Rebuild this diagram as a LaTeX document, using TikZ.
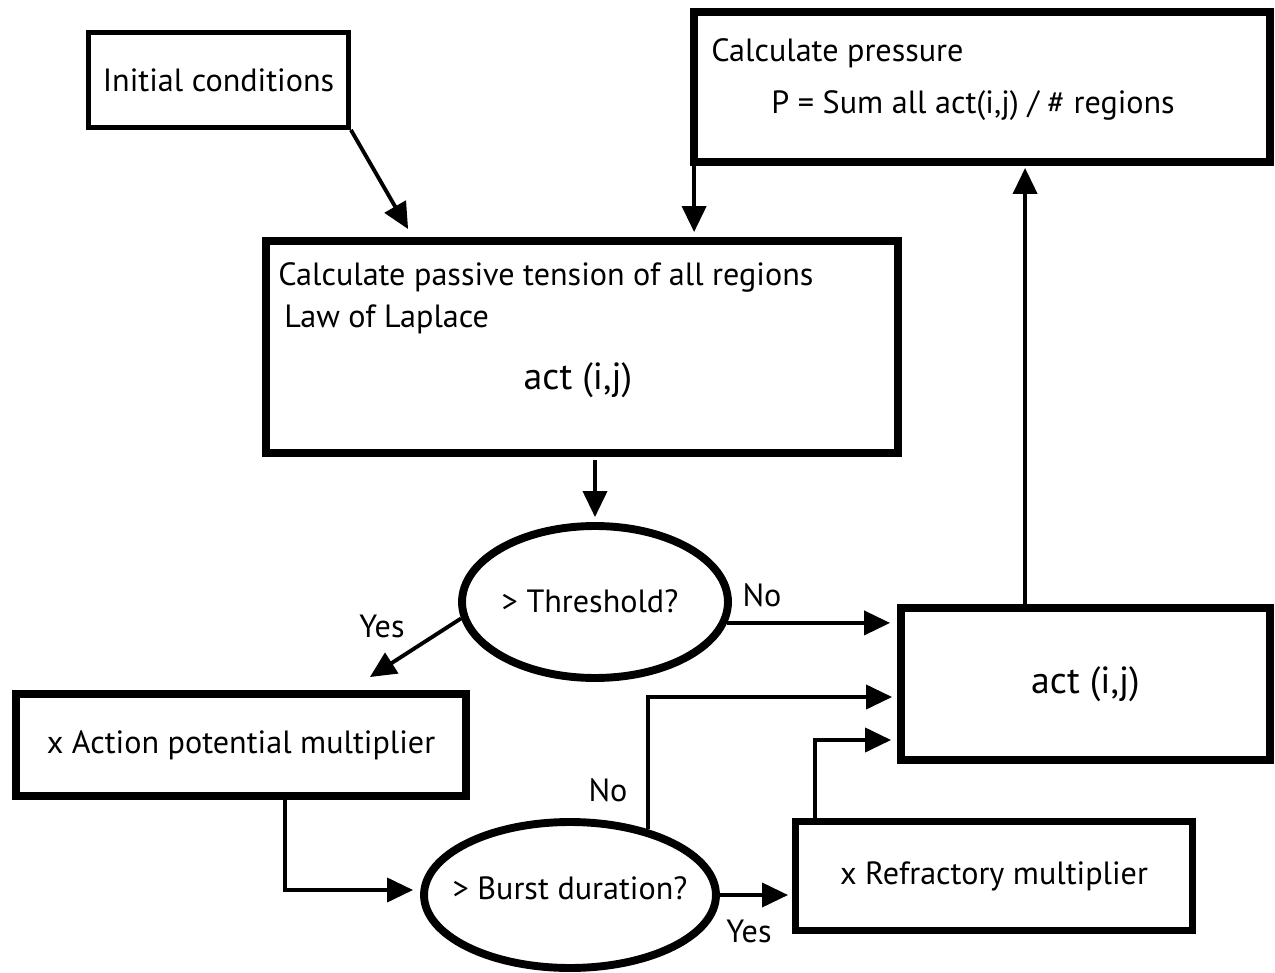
\documentclass[tikz,border=0pt]{standalone}
\usepackage{fontspec}
\setmainfont{PT Sans}
\usepackage{tikz}
\usetikzlibrary{arrows.meta,positioning,shapes.geometric,calc}
\tikzset{
  stepbox/.style={draw=black,line width=4.5pt,fill=white,align=center,inner sep=2pt},
  thinbox/.style={stepbox,line width=2.8pt},
  ask/.style={ellipse,draw=black,line width=4.5pt,fill=white,inner sep=0pt},
  txt/.style={inner sep=0pt},
  bigtxt/.style={txt,font=\fontsize{21.5}{25}\selectfont},
  arr/.style={-{Triangle[length=5.2mm,width=4.8mm]},draw=black,line width=2.2pt}
}
\begin{document}
\begin{tikzpicture}[x=0.02cm,y=-0.02cm,font=\fontsize{18.3}{22}\selectfont]
  \useasboundingbox (0,0) rectangle (1275,973);
  % boxes
  \node[thinbox,minimum width=5.2cm,minimum height=1.9cm] (init) at (218.5,80) {Initial conditions};
  \node[stepbox,minimum width=11.52cm,minimum height=3.0cm] (press) at (982,87) {};
  \node[txt,anchor=base west] (presstitle) at (711,62) {Calculate pressure};
  \node[txt,anchor=base west] (pressform) at (771,114) {P = Sum all act(i,j) / \# regions};
  \node[stepbox,minimum width=12.64cm,minimum height=4.24cm] (passive) at (582,347) {};
  \node[txt,anchor=base west] (passtitle) at (278,286) {Calculate passive tension of all regions};
  \node[txt,anchor=base west] (passlaw) at (284,328) {Law of Laplace};
  \node[bigtxt,anchor=base] (passact) at (578,389) {act (i,j)};
  \node[ask,minimum width=5.32cm,minimum height=3.04cm] (thresh) at (595,602) {};
  \node[txt] (threshtxt) at ($(thresh)+(-5,-1)$) {> Threshold?};
  \node[stepbox,minimum width=9.0cm,minimum height=2.04cm] (action) at (241,745) {x Action potential multiplier};
  \node[ask,minimum width=5.84cm,minimum height=2.92cm] (burst) at (570,895) {};
  \node[txt] (bursttxt) at ($(burst)+(0,-7)$) {> Burst duration?};
  \node[stepbox,line width=4pt,minimum width=7.94cm,minimum height=2.18cm] (refr) at (994,876) {x Refractory multiplier};
  \node[stepbox,minimum width=7.38cm,minimum height=3.04cm,font=\fontsize{21.5}{25}\selectfont] (act) at (1085.5,684) {act (i,j)};
  % branch labels
  \node[txt] (yes1) at (382,626) {Yes};
  \node[txt] (no1) at (762,595) {No};
  \node[txt] (no2) at (608,790) {No};
  \node[txt] (yes2) at (749,931) {Yes};
  % connector ends off the node centres
  \coordinate (pressout) at ($(press.south west)+(4,-16)$);
  \coordinate (actout) at ($(act.north west)+(128,0)$);
  % connectors
  \draw[arr] (init.south east) -- ($(passive.north west)+(146,-8)$);
  \draw[arr,shorten >=0.1cm] (pressout) -- (pressout |- passive.north);
  \draw[arr,shorten <=0.06cm,shorten >=0.1cm] (thresh.north |- passive.south) -- (thresh.north);
  \draw[arr] (thresh.187) -- ($(action.north east)+(-100,-13)$);
  \draw[arr,shorten >=0.14cm] (thresh.-9) -- (thresh.-9 -| act.west);
  \draw[arr,shorten >=0.14cm] ($(action.south)+(44,0)$) |- ($(burst.west)+(0,-5)$);
  \draw[arr,shorten >=0.1cm] (burst.40) |- ($(act.west)+(0,13)$);
  \draw[arr,shorten >=0.08cm] (burst.east) -- (burst.east -| refr.west);
  \draw[arr,shorten >=0.12cm] ($(refr.north west)+(23,0)$) |- ($(act.west)+(0,56)$);
  \draw[arr,shorten >=0.04cm] (actout) -- (actout |- press.south);
\end{tikzpicture}
\end{document}
